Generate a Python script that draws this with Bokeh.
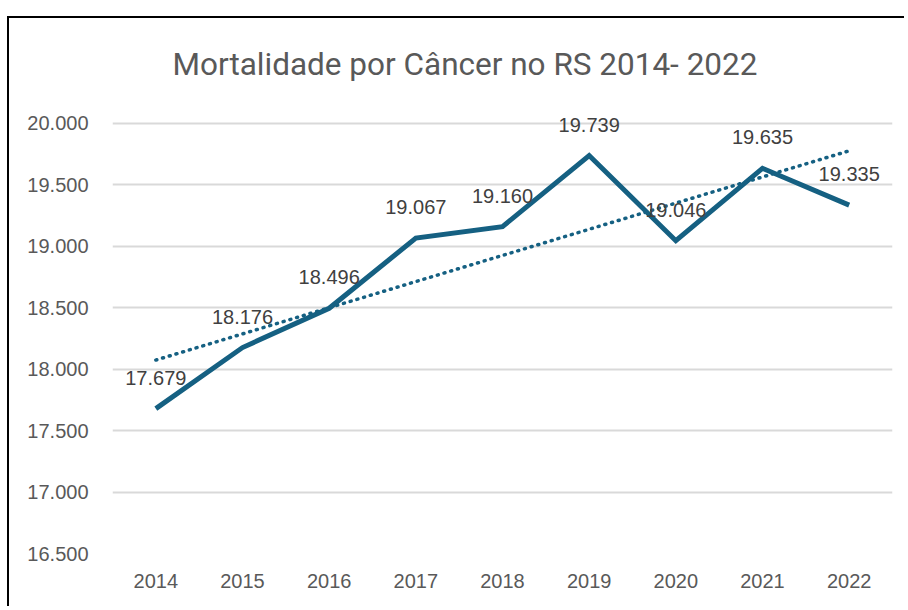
import numpy as np
from bokeh.plotting import figure
from bokeh.models import ColumnDataSource, FactorRange, Range1d, FixedTicker, Title
from bokeh.core.properties import value
from bokeh.embed import file_html
from bokeh.resources import INLINE

years = ["2014", "2015", "2016", "2017", "2018", "2019", "2020", "2021", "2022"]
deaths = [17679, 18176, 18496, 19067, 19160, 19739, 19046, 19635, 19335]
labels = ["17.679", "18.176", "18.496", "19.067", "19.160", "19.739", "19.046", "19.635", "19.335"]
y_ticks = [16500, 17000, 17500, 18000, 18500, 19000, 19500, 20000]
y_tick_labels = ["16.500", "17.000", "17.500", "18.000", "18.500", "19.000", "19.500", "20.000"]
title_text = "Mortalidade por Câncer no RS 2014- 2022"

# linear trend (Excel-style trendline)
idx = np.arange(len(deaths))
slope, intercept = np.polyfit(idx, deaths, 1)
trend = list(intercept + slope * idx)

src = ColumnDataSource(dict(year=years, deaths=deaths, label=labels, trend=trend))

LINE = "#156082"
GREY = "#595959"

p = figure(
    x_range=FactorRange(*years), y_range=Range1d(16500, 20146),
    width=897, height=590, output_backend="svg", toolbar_location=None,
    min_border_left=103, min_border_right=14, min_border_top=87, min_border_bottom=55,
)
p.styles = {"border-top": "2px solid black", "border-left": "2px solid black",
            "margin-top": "16px", "margin-left": "7px"}

t = Title(text=title_text, align="left", offset=60,
          text_font="Roboto", text_font_size="31.5px", text_font_style="normal",
          text_color=GREY, standoff=45)
p.add_layout(t, "above")

p.outline_line_color = None
p.xgrid.grid_line_color = None
p.ygrid.grid_line_color = "#d9d9d9"
p.ygrid.grid_line_width = 2

p.yaxis.ticker = FixedTicker(ticks=y_ticks)
p.yaxis.major_label_overrides = {v: s for v, s in zip(y_ticks, y_tick_labels)}
for ax in (p.xaxis, p.yaxis):
    ax.axis_line_color = None
    ax.major_tick_line_color = None
    ax.minor_tick_line_color = None
    ax.major_label_text_font = "Liberation Sans"
    ax.major_label_text_font_size = "20px"
    ax.major_label_text_color = GREY
p.yaxis.major_label_standoff = 18
p.xaxis.major_label_standoff = 14
p.x_range.range_padding = 0
p.x_range.factor_padding = 0

p.line("year", "trend", source=src, line_color=LINE, line_width=3.5, line_dash="1 6", line_cap="round")
p.line("year", "deaths", source=src, line_color=LINE, line_width=5, line_join="miter")
p.text("year", "deaths", text="label", source=src, y_offset=-31,
       text_align="center", text_baseline="middle",
       text_font=value("Liberation Sans"), text_font_size="20px", text_color="#404040")

open("out.html", "w").write(file_html(p, INLINE))
